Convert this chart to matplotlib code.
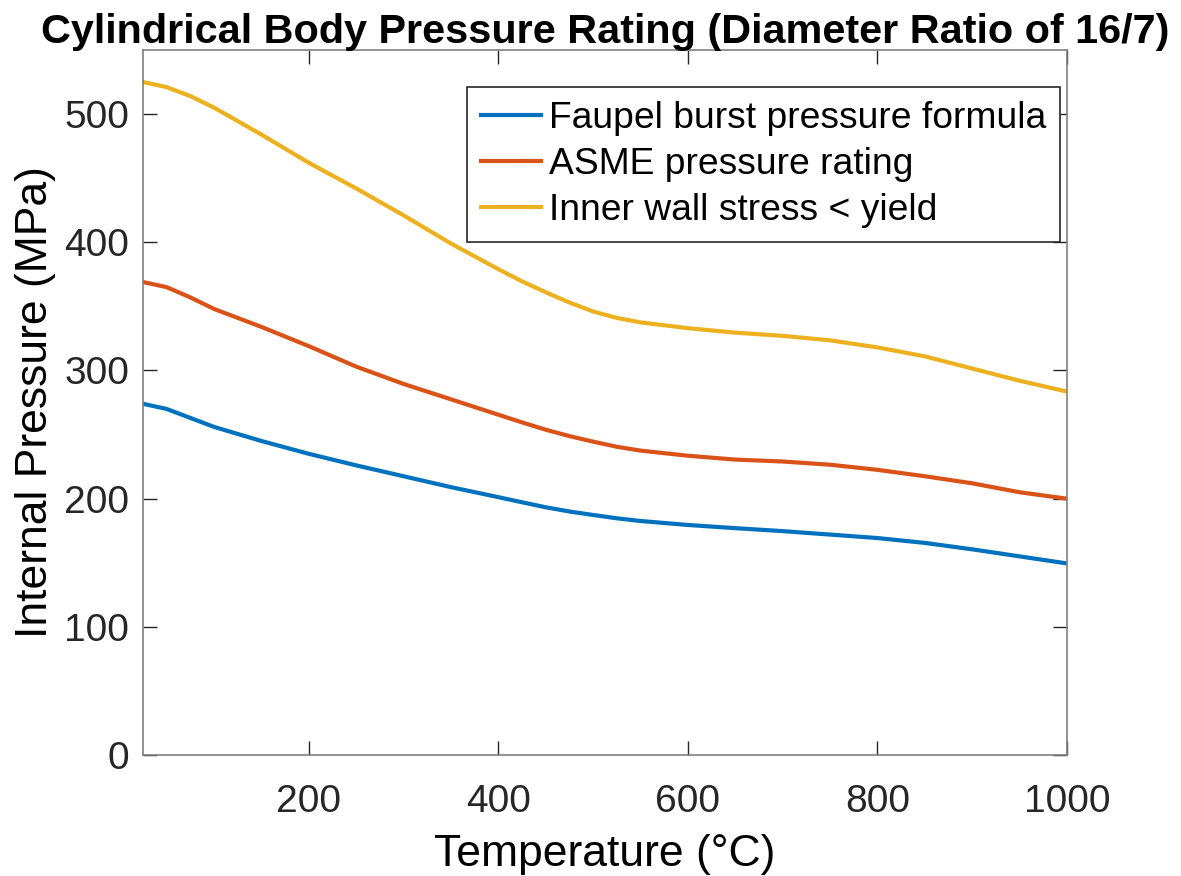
import matplotlib.pyplot as plt

# Temperatura (°C) e pressões (MPa)
temperature = [25, 50, 75, 100, 150, 200, 250, 300, 350, 400, 425, 450, 475,
               500, 525, 550, 600, 650, 700, 750, 800, 850, 900, 950, 1000]
faupel = [274, 270, 263, 256, 245, 235, 226, 217.5, 209, 201.2, 197.2, 193.3,
          190, 187.3, 184.7, 182.6, 179.5, 177, 174.7, 172, 169.3, 165.5,
          160.5, 155, 149.5]
asme = [369, 365, 357, 348, 334, 319, 303, 289.5, 277.5, 265.5, 259.5, 253.8,
        248.8, 244.5, 240.5, 237.5, 233.5, 230.5, 229, 226.5, 222.5, 217.5,
        212, 205, 200]
yield_limit = [525, 521, 514, 505, 484, 462, 442, 421, 399, 379, 369.5, 361,
               353, 346, 341, 337.5, 333, 329.5, 327, 323.5, 318, 311, 301.5,
               292, 283.5]

labels = ['Faupel burst pressure formula', 'ASME pressure rating',
          'Inner wall stress < yield']
colors = ['#0072BD', '#D95319', '#EDB120']

plt.rcParams['font.family'] = ['Liberation Sans', 'DejaVu Sans']

fig = plt.figure(figsize=(11.81, 8.76), dpi=100)
ax = fig.add_axes([0.121, 0.138, 0.7825, 0.805])

for series, lab, c in zip([faupel, asme, yield_limit], labels, colors):
    ax.plot(temperature, series, color=c, lw=3, label=lab)

ax.set_xlim(25, 1000)
ax.set_ylim(0, 550)
ax.set_xticks([200, 400, 600, 800, 1000])
ax.set_yticks([0, 100, 200, 300, 400, 500])

# eixos no estilo MATLAB: ticks para dentro nos quatro lados
ax.tick_params(direction='in', length=10, width=1, colors='#262626',
               labelsize=28, top=True, right=True, pad=10)
ax.tick_params(axis='x', pad=21)
for s in ax.spines.values():
    s.set_color('#808080')
    s.set_linewidth(1.2)

ax.set_xlabel('Temperature (°C)', fontsize=32, color='black', labelpad=10)
ax.set_ylabel('Internal Pressure (MPa)', fontsize=32, color='black', labelpad=6)
ax.set_title('Cylindrical Body Pressure Rating (Diameter Ratio of 16/7)',
             fontsize=29.8, fontweight='bold',
             family=['Liberation Sans Narrow', 'Liberation Sans'], pad=5)

leg = ax.legend(loc='upper right', bbox_to_anchor=(0.9925, 0.948), fontsize=26.8,
                frameon=True, fancybox=False, edgecolor='#262626', framealpha=1,
                handlelength=1.6, handletextpad=0.22, borderpad=0.38,
                labelspacing=0.3, borderaxespad=0)
leg.get_frame().set_linewidth(1.2)

fig.savefig('out.png', dpi=100)
